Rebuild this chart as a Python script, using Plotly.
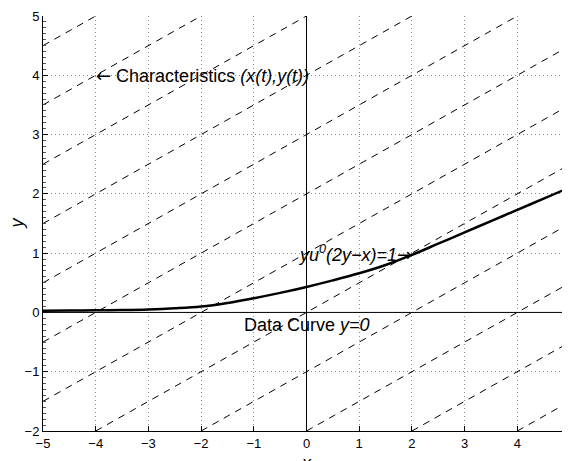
import plotly.graph_objects as go

# characteristic lines y = x/2 + k
char_offsets = [-4, -3, -2, -1, 0, 1, 2, 3, 4, 5, 6, 7]
# solid curve yu^0(2y-x)=1
curve_x = [-5, -4.5, -4, -3.5, -3, -2.5, -2, -1.5, -1, -0.5, 0, 0.5, 1, 1.5, 2, 2.5, 3, 3.5, 4, 4.5, 5]
curve_y = [0.03, 0.032, 0.035, 0.04, 0.05, 0.07, 0.10, 0.16, 0.24, 0.33, 0.43, 0.54, 0.66, 0.80, 0.97, 1.16, 1.35, 1.54, 1.73, 1.92, 2.11]
x_ticks = [-5, -4, -3, -2, -1, 0, 1, 2, 3, 4, 5]
y_ticks = [-2, -1, 0, 1, 2, 3, 4, 5]
x_range = [-5, 5]
y_range = [-2, 5]

fig = go.Figure()

for k in char_offsets:
    x0 = max(x_range[0], 2 * (y_range[0] - k))
    x1 = min(x_range[1], 2 * (y_range[1] - k))
    if x1 <= x0:
        continue
    fig.add_trace(go.Scatter(x=[x0, x1], y=[x0 / 2 + k, x1 / 2 + k], mode="lines",
                             line=dict(color="black", width=1, dash="7px,6px"),
                             showlegend=False, hoverinfo="skip"))

fig.add_trace(go.Scatter(x=x_range, y=[0, 0], mode="lines",
                         line=dict(color="black", width=1), showlegend=False))
fig.add_trace(go.Scatter(x=[0, 0], y=y_range, mode="lines",
                         line=dict(color="black", width=1), showlegend=False))

fig.add_trace(go.Scatter(x=curve_x, y=curve_y, mode="lines",
                         line=dict(color="black", width=2.5, shape="spline", smoothing=1.0),
                         showlegend=False))

font_family = "Liberation Sans, Arial, Helvetica, sans-serif"
tf = dict(size=18, color="black", family=font_family)
arrow_style = "font-family:DejaVu Sans"

fig.add_annotation(x=-4, y=4, xanchor="left", yanchor="middle", showarrow=False, xshift=-2,
                   text=f"<span style='{arrow_style}'>\u2190</span> Characteristics <i>(x(t),y(t))</i>", font=tf)
fig.add_annotation(x=2, y=1, xanchor="right", yanchor="middle", showarrow=False, xshift=2,
                   text=f"<i>yu</i><sup><i>0</i></sup><i>(2y\u2212x)=1</i><span style='{arrow_style}'>\u2192</span>", font=tf)
fig.add_annotation(x=0, y=-0.22, xanchor="center", yanchor="middle", showarrow=False,
                   text="Data Curve <i>y=0</i>", font=tf)
# axis titles
fig.add_annotation(x=0.5, y=0, xref="paper", yref="paper", xanchor="center", yanchor="top",
                   yshift=-20, showarrow=False, text="<i>x</i>", font=tf)
fig.add_annotation(x=0, y=0.5, xref="paper", yref="paper", xanchor="center", yanchor="middle",
                   xshift=-27, showarrow=False, text="<i>y</i>", textangle=-90, font=tf)

axis_common = dict(showgrid=True, gridcolor="#8c8c8c", griddash="1px,3px", gridwidth=1,
                   zeroline=False, showline=True, linecolor="black", linewidth=1,
                   ticks="inside", ticklen=5, tickcolor="black", mirror=False,
                   automargin=False,
                   tickfont=dict(size=13, color="black", family=font_family))

# page body has an 8px margin, so figure is sized to fit the window
fig.update_layout(
    width=562, height=453,
    margin=dict(l=35, r=0, t=8, b=30),
    plot_bgcolor="white", paper_bgcolor="white",
    xaxis=dict(range=x_range, tickvals=x_ticks,
               ticktext=[str(v).replace("-", "\u2212") for v in x_ticks],
               **axis_common),
    yaxis=dict(range=y_range, tickvals=y_ticks,
               ticktext=[str(v).replace("-", "\u2212") for v in y_ticks],
               minor=dict(ticks="inside", ticklen=3, dtick=0.1, tickcolor="#555555", showgrid=False),
               **axis_common),
)

fig.write_html("out.html")
